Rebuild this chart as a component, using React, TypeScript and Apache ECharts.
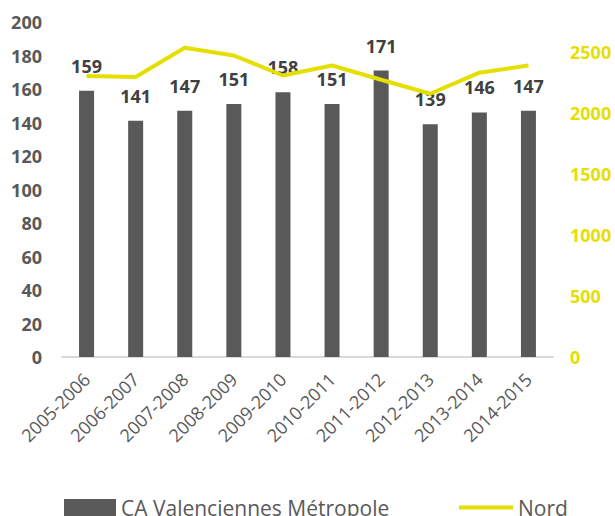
import React, { useEffect, useRef } from "react";
import * as echarts from "echarts";

const categories = [
  "2005-2006", "2006-2007", "2007-2008", "2008-2009", "2009-2010",
  "2010-2011", "2011-2012", "2012-2013", "2013-2014", "2014-2015",
];
const caValues = [159, 141, 147, 151, 158, 151, 171, 139, 146, 147];
const nordValues = [2306, 2298, 2538, 2475, 2311, 2393, 2276, 2161, 2334, 2393];

const FONT = "'Open Sans', sans-serif";
const GRAY = "#595959";
const YELLOW = "#E5DF00";

export default function App() {
  const ref = useRef<HTMLDivElement>(null);
  useEffect(() => {
    if (!ref.current) return;
    const chart = echarts.init(ref.current, null, { renderer: "svg" });
    const legendText = { fontFamily: FONT, fontSize: 21, color: GRAY };
    chart.setOption({
      animation: false,
      textStyle: { fontFamily: FONT },
      grid: { left: 62, right: 62, top: 22, bottom: 159, containLabel: false },
      legend: [
        {
          left: 59,
          top: 492,
          itemWidth: 52,
          itemHeight: 17,
          itemGap: 5,
          textStyle: legendText,
          data: [{ name: "CA Valenciennes Métropole", icon: "rect" }],
        },
        {
          left: 454,
          top: 492,
          itemWidth: 54,
          itemHeight: 4,
          textStyle: legendText,
          data: [{ name: "Nord", icon: "rect" }],
        },
      ],
      xAxis: {
        type: "category",
        data: categories,
        axisLine: { show: true, lineStyle: { color: "#D9D9D9", width: 2 } },
        axisTick: { show: false },
        axisLabel: {
          rotate: 45,
          interval: 0,
          margin: 19,
          fontFamily: FONT,
          fontSize: 18,
          color: GRAY,
        },
      },
      yAxis: [
        {
          type: "value",
          min: 0,
          max: 200,
          interval: 20,
          splitLine: { show: false },
          axisLine: { show: false },
          axisTick: { show: false },
          axisLabel: {
            margin: 20,
            fontFamily: FONT,
            fontSize: 18,
            fontWeight: "bold",
            color: GRAY,
          },
        },
        {
          type: "value",
          min: 0,
          max: 2750,
          interval: 500,
          position: "right",
          splitLine: { show: false },
          axisLine: { show: false },
          axisTick: { show: false },
          axisLabel: {
            margin: 17,
            fontFamily: FONT,
            fontSize: 18,
            fontWeight: "bold",
            color: YELLOW,
            formatter: (v: number) => (v > 2500 ? "" : String(v)),
          },
        },
      ],
      series: [
        {
          name: "CA Valenciennes Métropole",
          type: "bar",
          data: caValues,
          barWidth: 15,
          itemStyle: { color: GRAY },
          label: {
            show: true,
            position: "top",
            distance: 16,
            fontFamily: FONT,
            fontSize: 18,
            fontWeight: "bold",
            color: "#404040",
          },
          z: 2,
        },
        {
          name: "Nord",
          type: "line",
          yAxisIndex: 1,
          data: nordValues,
          symbol: "none",
          lineStyle: { color: YELLOW, width: 4 },
          itemStyle: { color: YELLOW },
          z: 3,
        },
      ],
    });
    return () => chart.dispose();
  }, []);
  return <div ref={ref} style={{ width: 615, height: 516, position: "absolute", left: 0, top: 0 }} />;
}
